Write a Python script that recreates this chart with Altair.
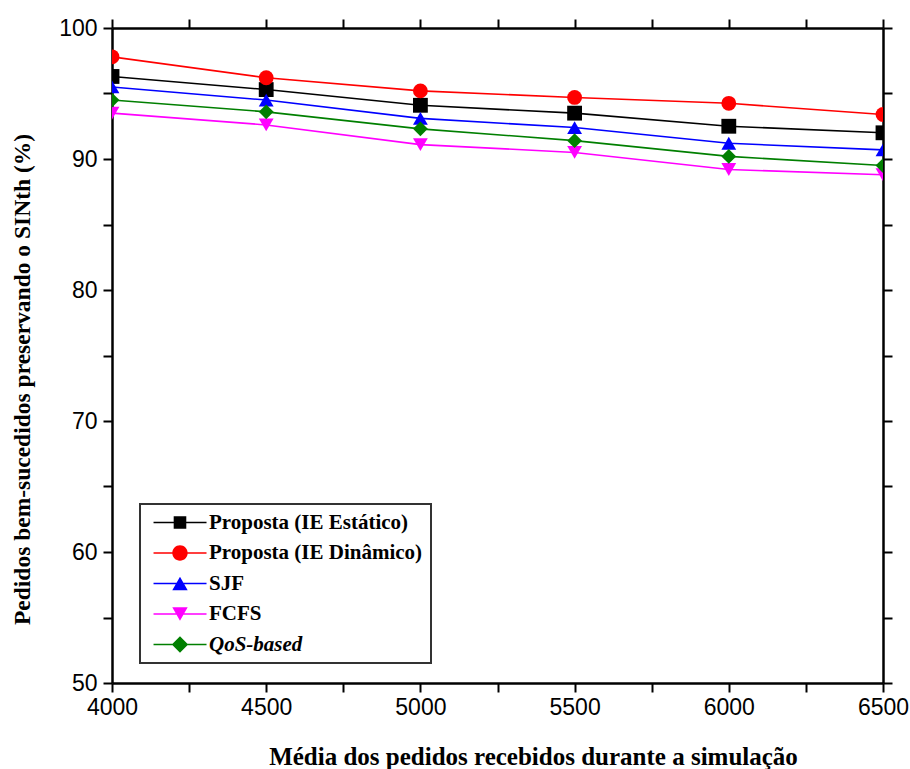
import altair as alt
import pandas as pd

# ---- data ----
x_values = [4000, 4500, 5000, 5500, 6000, 6500]
series_names = ["Proposta (IE Estático)", "Proposta (IE Dinâmico)", "SJF", "FCFS", "QoS-based"]
estatico = [96.3, 95.3, 94.1, 93.5, 92.5, 92.0]
dinamico = [97.8, 96.2, 95.2, 94.7, 94.25, 93.4]
sjf = [95.5, 94.5, 93.1, 92.4, 91.2, 90.7]
fcfs = [93.5, 92.6, 91.1, 90.5, 89.2, 88.8]
qos = [94.5, 93.6, 92.3, 91.4, 90.2, 89.5]

x_ticks = [4000, 4250, 4500, 4750, 5000, 5250, 5500, 5750, 6000, 6250, 6500]
y_ticks = [50, 55, 60, 65, 70, 75, 80, 85, 90, 95, 100]

colors = ["#000000", "#ff0000", "#0000ff", "#ff00ff", "#007f00"]
shapes = ["square", "circle", "triangle-up", "triangle-down", "diamond"]

# legend symbols: line + marker (unit = 7 px)
_line = "M-0.71,-0.114H6.86V0.114H-0.71Z"
_cx = 3.07
legend_paths = [
    _line + f"M{_cx-0.9},-0.9H{_cx+0.9}V0.9H{_cx-0.9}Z",
    _line + f"M{_cx-1.1},0A1.1,1.1 0 1 1 {_cx+1.1},0A1.1,1.1 0 1 1 {_cx-1.1},0Z",
    _line + f"M{_cx},-0.95L{_cx+1.1},0.95L{_cx-1.1},0.95Z",
    _line + f"M{_cx-1.1},-0.95L{_cx+1.1},-0.95L{_cx},0.95Z",
    _line + f"M{_cx},-1.17L{_cx+1.17},0L{_cx},1.17L{_cx-1.17},0Z",
]

all_series = [estatico, dinamico, sjf, fcfs, qos]
rows = []
for name, vals in zip(series_names, all_series):
    for xv, yv in zip(x_values, vals):
        rows.append({"x": xv, "y": yv, "series": name})
df = pd.DataFrame(rows)

x_scale = alt.Scale(domain=[4000, 6500], nice=False, zero=False)
y_scale = alt.Scale(domain=[50, 100], nice=False, zero=False)

base = alt.Chart(df)

layers = []
for i, (name, shp, col) in enumerate(zip(series_names, shapes, colors)):
    sub = base.transform_filter(alt.datum.series == name)
    if i == 0:
        lx = alt.X("x:Q", scale=x_scale, axis=alt.Axis(
            orient="bottom", values=x_ticks, format="d",
            labelExpr="datum.value % 500 == 0 ? datum.label : ''",
            title="Média dos pedidos recebidos durante a simulação",
            titleX=421, titleY=81, titleBaseline="alphabetic", titleAlign="center",
            titleFontSize=25, grid=False))
        ly = alt.Y("y:Q", scale=y_scale, axis=alt.Axis(
            orient="left", values=y_ticks, format="d",
            labelExpr="datum.value % 10 == 0 ? datum.label : ''",
            labelPadding=6,
            title="Pedidos bem-sucedidos preservando o SINth (%)",
            titleX=-83, titleY=351, titleBaseline="alphabetic", titleAlign="center",
            titleAngle=270, titleFontSize=23.5, grid=False))
        px = alt.X("x:Q", scale=x_scale, axis=alt.Axis(
            orient="top", values=x_ticks, labels=False, title=None, grid=False))
        py = alt.Y("y:Q", scale=y_scale, axis=alt.Axis(
            orient="right", values=y_ticks, labels=False, title=None, grid=False))
    else:
        lx = px = alt.X("x:Q", scale=x_scale, axis=None)
        ly = py = alt.Y("y:Q", scale=y_scale, axis=None)
    layers.append(sub.mark_line(strokeWidth=1.6, color=col, clip=True).encode(x=lx, y=ly))
    layers.append(sub.mark_point(filled=True, shape=shp, size=220, opacity=1,
                                 color=col, clip=True).encode(x=px, y=py))

leg = alt.Legend(
    title=None, orient="none", legendX=28, legendY=476, padding=8,
    strokeColor="#333333", fillColor="white",
    labelFont="Liberation Serif", labelFontSize=21, labelFontWeight="bold",
    labelColor="black", labelOffset=40, rowPadding=8.5, symbolSize=196,
    symbolStrokeWidth=0, labelLimit=400,
    labelFontStyle={"expr": "datum.label == 'QoS-based' ? 'italic' : 'normal'"},
)

legend_layer = base.transform_filter("false").mark_point(
    filled=True, opacity=1, size=196
).encode(
    x=alt.X("x:Q", scale=x_scale, axis=None),
    y=alt.Y("y:Q", scale=y_scale, axis=None),
    fill=alt.Fill("series:N", scale=alt.Scale(domain=series_names, range=colors), legend=leg),
    shape=alt.Shape("series:N", scale=alt.Scale(domain=series_names, range=legend_paths), legend=leg),
)

chart = alt.layer(*layers, legend_layer).resolve_axis(
    x="independent", y="independent"
).properties(
    width=771, height=655,
    autosize=alt.AutoSizeParams(type="none"),
    padding={"left": 112, "top": 28, "right": 27, "bottom": 86},
    background="white",
).configure_view(
    stroke=None
).configure_legend(
    strokeWidth=2
).configure_axis(
    domainColor="black", domainWidth=2.5, tickColor="black", tickWidth=2,
    tickSize=9, labelFont="Liberation Sans", labelFontSize=23,
    labelColor="black", labelPadding=4, labelFlush=False,
    titleFont="Liberation Serif", titleFontWeight="bold",
    titleColor="black",
)

chart.save("out.html", embed_options={"renderer": "svg", "actions": False})
